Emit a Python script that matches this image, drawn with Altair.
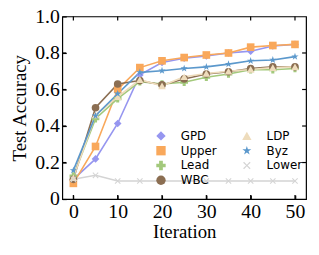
import altair as alt
import pandas as pd

iterations = [0, 5, 10, 15, 20, 25, 30, 35, 40, 45, 50]
gpd   = [0.108, 0.22, 0.414, 0.68, 0.748, 0.771, 0.784, 0.80, 0.81, 0.838, 0.847]
upper = [0.086, 0.288, 0.60, 0.72, 0.757, 0.775, 0.789, 0.80, 0.832, 0.841, 0.847]
lead  = [0.126, 0.44, 0.55, 0.643, 0.63, 0.64, 0.667, 0.685, 0.708, 0.708, 0.715]
wbc   = [0.108, 0.50, 0.63, 0.649, 0.625, 0.658, 0.685, 0.697, 0.715, 0.724, 0.724]
ldp   = [0.117, 0.46, 0.56, 0.654, 0.62, 0.67, 0.688, 0.70, 0.71, 0.72, 0.724]
byz   = [0.157, 0.456, 0.577, 0.694, 0.703, 0.715, 0.724, 0.739, 0.757, 0.762, 0.78]
lower = [0.108, 0.13, 0.099, 0.099, 0.099, 0.099, 0.099, 0.099, 0.099, 0.099, 0.099]

series = {"GPD": gpd, "Upper": upper, "Lead": lead, "WBC": wbc,
          "LDP": ldp, "Byz": byz, "Lower": lower}

x_ticks = [0, 10, 20, 30, 40, 50]
y_ticks = [0, 0.2, 0.4, 0.6, 0.8, 1.0]

legend_order = ["GPD", "Upper", "Lead", "WBC", "LDP", "Byz", "Lower"]
colors = {"GPD": "#9696f0", "Upper": "#f9a85b", "Lead": "#a3c97c", "WBC": "#8b6e52",
          "LDP": "#eedcbc", "Byz": "#5b98cc", "Lower": "#d4d4d4"}
star = "M0,-1L0.2245,-0.309L0.951,-0.309L0.363,0.118L0.588,0.809L0,0.382L-0.588,0.809L-0.363,0.118L-0.951,-0.309L-0.2245,-0.309Z"
xshape = "M0,-0.17L0.6,-0.8L0.8,-0.6L0.17,0L0.8,0.6L0.6,0.8L0,0.17L-0.6,0.8L-0.8,0.6L-0.17,0L-0.8,-0.6L-0.6,-0.8Z"
shapes = {"GPD": "diamond", "Upper": "square", "Lead": "cross", "WBC": "circle",
          "LDP": "triangle-up", "Byz": star, "Lower": xshape}

rows = []
for name, vals in series.items():
    for it, v in zip(iterations, vals):
        rows.append({"Iteration": it, "Accuracy": v, "Series": name})
df = pd.DataFrame(rows)

W, H = 247, 185
font = "Liberation Serif"
TS = 4

xscale = alt.Scale(domain=[-2.5, 52.5], nice=False, zero=False)
yscale = alt.Scale(domain=[0, 1], nice=False)
color = alt.Color("Series:N", sort=legend_order,
                  scale=alt.Scale(domain=legend_order, range=[colors[s] for s in legend_order]),
                  legend=alt.Legend(title=None, orient="none", legendX=80, legendY=115,
                                    columns=2, columnPadding=10, rowPadding=3,
                                    symbolSize=90, symbolStrokeWidth=0,
                                    labelFont="DejaVu Sans", labelFontSize=12,
                                    labelColor="black", gridAlign="all",
                                    symbolOffset=14, labelOffset=14))
shape = alt.Shape("Series:N", sort=legend_order,
                  scale=alt.Scale(domain=legend_order, range=[shapes[s] for s in legend_order]),
                  legend=None)

xaxis = alt.Axis(values=x_ticks, title="Iteration", orient="bottom", offset=-TS,
                 ticks=True, tickSize=TS, labelPadding=3, titlePadding=1)
yaxis = alt.Axis(values=y_ticks, title="Test Accuracy", orient="left", offset=-TS,
                 ticks=True, tickSize=TS, labelPadding=3, titlePadding=5,
                 labelExpr="datum.value == 0 ? '0' : format(datum.value, '.1f')")

base = alt.Chart(df)
lines = base.mark_line(strokeWidth=1.6).encode(
    x=alt.X("Iteration:Q", scale=xscale, axis=xaxis),
    y=alt.Y("Accuracy:Q", scale=yscale, axis=yaxis),
    color=color,
    detail="Series:N",
)
points = base.mark_point(filled=True, size=60, opacity=1).encode(
    x=alt.X("Iteration:Q", scale=xscale, axis=None),
    y=alt.Y("Accuracy:Q", scale=yscale, axis=None),
    color=color,
    shape=shape,
)

xt = pd.DataFrame({"t": x_ticks})
yt = pd.DataFrame({"t": y_ticks[1:-1]})
tick_top = alt.Chart(xt).mark_rule(color="black", strokeWidth=1.2).encode(
    x=alt.X("t:Q", scale=xscale, axis=None), y=alt.value(0), y2=alt.value(TS))
tick_bot = alt.Chart(xt).mark_rule(color="black", strokeWidth=1.2).encode(
    x=alt.X("t:Q", scale=xscale, axis=None), y=alt.value(H), y2=alt.value(H - TS))
tick_left = alt.Chart(yt).mark_rule(color="black", strokeWidth=1.2).encode(
    y=alt.Y("t:Q", scale=yscale, axis=None), x=alt.value(0), x2=alt.value(TS))
tick_right = alt.Chart(yt).mark_rule(color="black", strokeWidth=1.2).encode(
    y=alt.Y("t:Q", scale=yscale, axis=None), x=alt.value(W), x2=alt.value(W - TS))

chart = alt.layer(lines, points, tick_top, tick_bot, tick_left, tick_right).resolve_axis(
    x="independent", y="independent"
).properties(
    width=W, height=H,
    background="white",
    autosize=alt.AutoSizeParams(type="none"),
    padding={"left": 55, "top": 7, "right": 5, "bottom": 47},
).configure_view(
    stroke="black", strokeWidth=1.2
).configure_axis(
    labelFont=font, labelFontSize=20, labelColor="black",
    titleFont=font, titleFontSize=19, titleFontWeight="normal", titleColor="black",
    domain=False, grid=False, labelOverlap=False, labelFlush=False,
    tickColor="black", tickWidth=1.2,
)

chart.save("out.html", embed_options={"renderer": "svg", "actions": False})
